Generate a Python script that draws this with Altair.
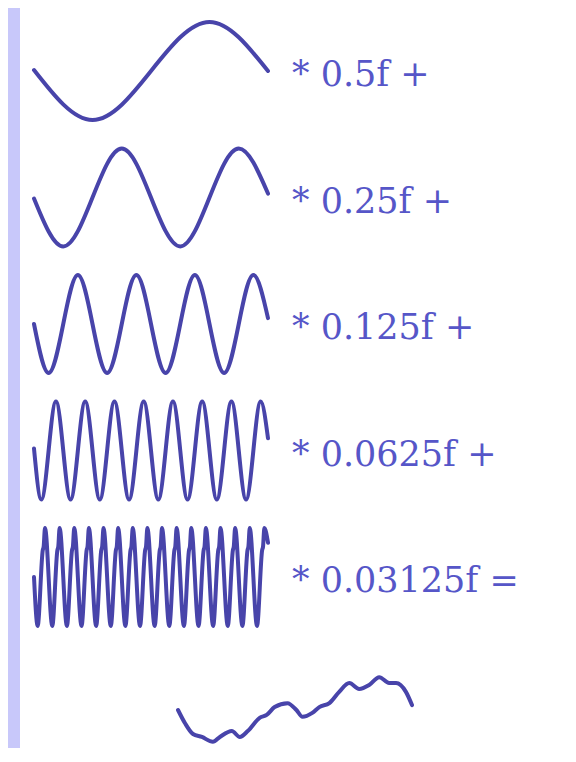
import altair as alt
import pandas as pd

# ---- data -----------------------------------------------------------------
# each wave: phase across its own span (0..1) and normalised value (-1..1)
row1_phase = [0.0, 0.25, 0.75, 1.0]
row1_value = [0.02, -1, 1, 0.0]

row2_phase = [0.0, 0.125, 0.375, 0.625, 0.875, 1.0]
row2_value = [-0.02, -1, 1, -1, 1, 0.08]

row3_phase = [0.0, 0.0625, 0.1875, 0.3125, 0.4375, 0.5625, 0.6875, 0.8125, 0.9375, 1.0]
row3_value = [0.0, -1, 1, -1, 1, -1, 1, -1, 1, 0.12]

row4_phase = [0.0, 0.03125, 0.09375, 0.15625, 0.21875, 0.28125, 0.34375, 0.40625,
              0.46875, 0.53125, 0.59375, 0.65625, 0.71875, 0.78125, 0.84375,
              0.90625, 0.96875, 1.0]
row4_value = [0.04, -1, 1, -1, 1, -1, 1, -1, 1, -1, 1, -1, 1, -1, 1, -1, 1, 0.25]

row5_phase = [0.0,
              0.0156, 0.0375, 0.0413, 0.0469,
              0.0781, 0.1000, 0.1038, 0.1094,
              0.1406, 0.1625, 0.1663, 0.1719,
              0.2031, 0.2250, 0.2288, 0.2344,
              0.2656, 0.2875, 0.2913, 0.2969,
              0.3281, 0.3500, 0.3538, 0.3594,
              0.3906, 0.4125, 0.4163, 0.4219,
              0.4531, 0.4750, 0.4788, 0.4844,
              0.5156, 0.5375, 0.5413, 0.5469,
              0.5781, 0.6000, 0.6038, 0.6094,
              0.6406, 0.6625, 0.6663, 0.6719,
              0.7031, 0.7250, 0.7288, 0.7344,
              0.7656, 0.7875, 0.7913, 0.7969,
              0.8281, 0.8500, 0.8538, 0.8594,
              0.8906, 0.9125, 0.9163, 0.9219,
              0.9531, 0.9750, 0.9788, 0.9844,
              1.0]
row5_value = [0.0,
              -1, 0.55, 0.62, 1,
              -1, 0.55, 0.62, 1,
              -1, 0.55, 0.62, 1,
              -1, 0.55, 0.62, 1,
              -1, 0.55, 0.62, 1,
              -1, 0.55, 0.62, 1,
              -1, 0.55, 0.62, 1,
              -1, 0.55, 0.62, 1,
              -1, 0.55, 0.62, 1,
              -1, 0.55, 0.62, 1,
              -1, 0.55, 0.62, 1,
              -1, 0.55, 0.62, 1,
              -1, 0.55, 0.62, 1,
              -1, 0.55, 0.62, 1,
              -1, 0.55, 0.62, 1,
              -1, 0.55, 0.62, 1,
              0.7]

sum_phase = [0.0, 0.030, 0.064, 0.102, 0.149, 0.179, 0.230, 0.264, 0.298, 0.349,
             0.379, 0.413, 0.468, 0.506, 0.532, 0.574, 0.604, 0.647, 0.689, 0.732,
             0.774, 0.817, 0.860, 0.902, 0.932, 0.974, 1.0]
sum_value = [0.0, -0.27, -0.49, -0.55, -0.65, -0.55, -0.43, -0.55, -0.43, -0.16,
             -0.10, 0.06, 0.14, 0.0, -0.14, -0.06, 0.06, 0.14, 0.37, 0.55,
             0.43, 0.51, 0.67, 0.55, 0.55, 0.37, 0.10]

labels = ["* 0.5f +", "* 0.25f +", "* 0.125f +", "* 0.0625f +", "* 0.03125f ="]

# ---- layout ----------------------------------------------------------------
WAVE = "#4844aa"
TEXT = "#5656c8"
LAVENDER = "#c8c8fa"
W, H = 548, 740          # canvas = 12 + 548 = 560 px, fits the page body
AMP_PX = 49.0
SPAN_PX = 234.0
ROW_GAP = 126.5 / AMP_PX
SUM_CENTER = -(710 - 71) / AMP_PX
SUM_X0 = (178 - 34) / SPAN_PX
LABEL_X = (292 - 34) / SPAN_PX
LABEL_DY = -0.09

X_DOM = [-14 / SPAN_PX, (W - 14) / SPAN_PX]
Y_TOP = 63 / AMP_PX
Y_DOM = [Y_TOP - H / AMP_PX, Y_TOP]

rows = [(row1_phase, row1_value), (row2_phase, row2_value), (row3_phase, row3_value),
        (row4_phase, row4_value), (row5_phase, row5_value)]

recs = []
for i, (ph, vals) in enumerate(rows):
    for p, v in zip(ph, vals):
        recs.append({"wave": f"w{i}", "x": p, "y": v - i * ROW_GAP})
for p, v in zip(sum_phase, sum_value):
    recs.append({"wave": "sum", "x": p + SUM_X0, "y": v + SUM_CENTER})
df = pd.DataFrame(recs)

lab = pd.DataFrame({
    "label": labels,
    "x": [LABEL_X] * len(labels),
    "y": [-i * ROW_GAP + LABEL_DY for i in range(len(labels))],
})

xs = alt.Scale(domain=X_DOM, nice=False, zero=False)
ys = alt.Scale(domain=Y_DOM, nice=False, zero=False)

lines = alt.Chart(df).mark_line(
    interpolate="monotone", strokeWidth=4, color=WAVE, strokeCap="round", strokeJoin="round"
).encode(
    x=alt.X("x:Q", scale=xs, axis=None),
    y=alt.Y("y:Q", scale=ys, axis=None),
    detail="wave:N",
)

texts = alt.Chart(lab).mark_text(
    align="left", baseline="middle", font="DejaVu Serif", fontSize=35, color=TEXT
).encode(
    x=alt.X("x:Q", scale=xs, axis=None),
    y=alt.Y("y:Q", scale=ys, axis=None),
    text="label:N",
)

chart = alt.layer(lines, texts).properties(
    width=W, height=H,
    autosize=alt.AutoSizeParams(type="none"),
    padding={"left": 12, "top": 0, "right": 0, "bottom": 0},
    background=LAVENDER,
).configure_view(fill="white", stroke=None, strokeWidth=0)

chart.save("out.html", embed_options={"renderer": "svg", "actions": False})
